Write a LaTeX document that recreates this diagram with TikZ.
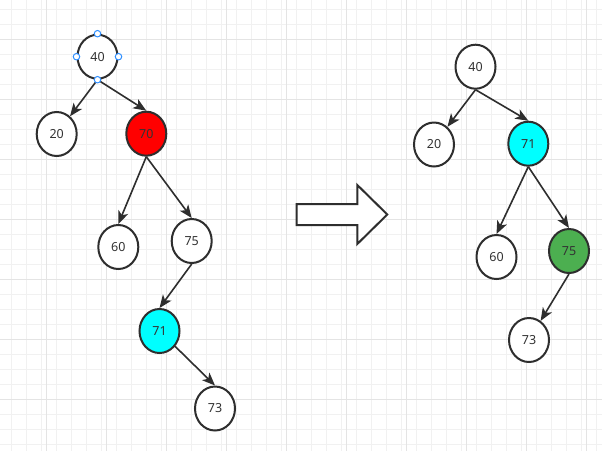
\documentclass[tikz,border=0pt]{standalone}
\usepackage{fontspec}
\setmainfont{Noto Sans}
\usetikzlibrary{shapes.geometric,arrows.meta}
\definecolor{gridminor}{HTML}{F1F1F1}
\definecolor{gridmajor}{HTML}{E4E4E4}
\definecolor{ink}{HTML}{2E2E2E}
\definecolor{txt}{HTML}{333333}
\definecolor{nred}{HTML}{FF0000}
\definecolor{ncyan}{HTML}{00FFFF}
\definecolor{ngreen}{HTML}{4CAF50}
\definecolor{hblue}{HTML}{2F8FFF}
\tikzset{
  minorline/.style={draw=gridminor,line width=1pt},
  majorline/.style={draw=gridmajor,line width=1pt},
  tnode/.style={ellipse,draw=ink,line width=2pt,fill=white,minimum width=40pt,minimum height=44pt,inner sep=0pt,text=txt,font=\fontsize{12.5}{14}\selectfont},
  edge/.style={draw=ink,line width=1.6pt,-{Stealth[length=13pt,width=10.5pt,inset=3.5pt]}},
  handle/.style={circle,draw=hblue,fill=white,line width=1pt,minimum size=6.5pt,inner sep=0pt},
  bigarrow/.style={draw=ink,line width=2pt,fill=white,line join=miter}
}
\begin{document}
\begin{tikzpicture}[x=1pt,y=-1pt]
\useasboundingbox (0,0) rectangle (602,451);
\fill[white] (0,0) rectangle (602,451);
% grid
\foreach \k in {0,...,39} \draw[minorline] ({11.7+15*\k},0) -- ({11.7+15*\k},451);
\foreach \k in {0,...,29} \draw[minorline] (0,{9.3+15*\k}) -- (602,{9.3+15*\k});
\foreach \k in {0,...,9} \draw[majorline] ({46.7+60*\k},0) -- ({46.7+60*\k},451);
\foreach \k in {0,...,6} \draw[majorline] (0,{39.3+60*\k}) -- (602,{39.3+60*\k});
% left tree
\node[tnode] (L40) at (97.5,56.7) {40};
\node[tnode] (L20) at (56.7,134) {20};
\node[tnode,fill=nred] (L70) at (146.3,133.7) {70};
\node[tnode] (L60) at (118.3,247) {60};
\node[tnode] (L75) at (191.7,241) {75};
\node[tnode,fill=ncyan] (L71) at (159.5,331) {71};
\node[tnode] (L73) at (215,408.5) {73};
\draw[edge] (L40.south) -- (L20);
\draw[edge] (L40.south) -- (L70.north);
\draw[edge] (L70.south) -- (L60.north);
\draw[edge] (L70.south) -- (L75.north);
\draw[edge] (L75.south) -- (L71.north);
\draw[edge] (L71) -- (L73.north);
% selection handles
\node[handle] (h1) at (L40.north) {};
\node[handle] (h2) at (L40.west) {};
\node[handle] (h3) at (L40.east) {};
\node[handle] (h4) at (L40.south) {};
% big arrow
\draw[bigarrow] (296.7,204) -- (357.3,204) -- (357.3,185) -- (387.3,214.5) -- (357.3,244) -- (357.3,225) -- (296.7,225) -- cycle;
% right tree
\node[tnode] (R40) at (475.5,66.7) {40};
\node[tnode] (R20) at (434,144.5) {20};
\node[tnode,fill=ncyan] (R71) at (528.3,143.7) {71};
\node[tnode] (R60) at (496.5,257) {60};
\node[tnode,fill=ngreen] (R75) at (569,251) {75};
\node[tnode] (R73) at (529,340) {73};
\draw[edge] (R40.south) -- (R20);
\draw[edge] (R40.south) -- (R71.north);
\draw[edge] (R71.south) -- (R60.north);
\draw[edge] (R71.south) -- (R75.north);
\draw[edge] (R75.south) -- (R73);
\end{tikzpicture}
\end{document}
